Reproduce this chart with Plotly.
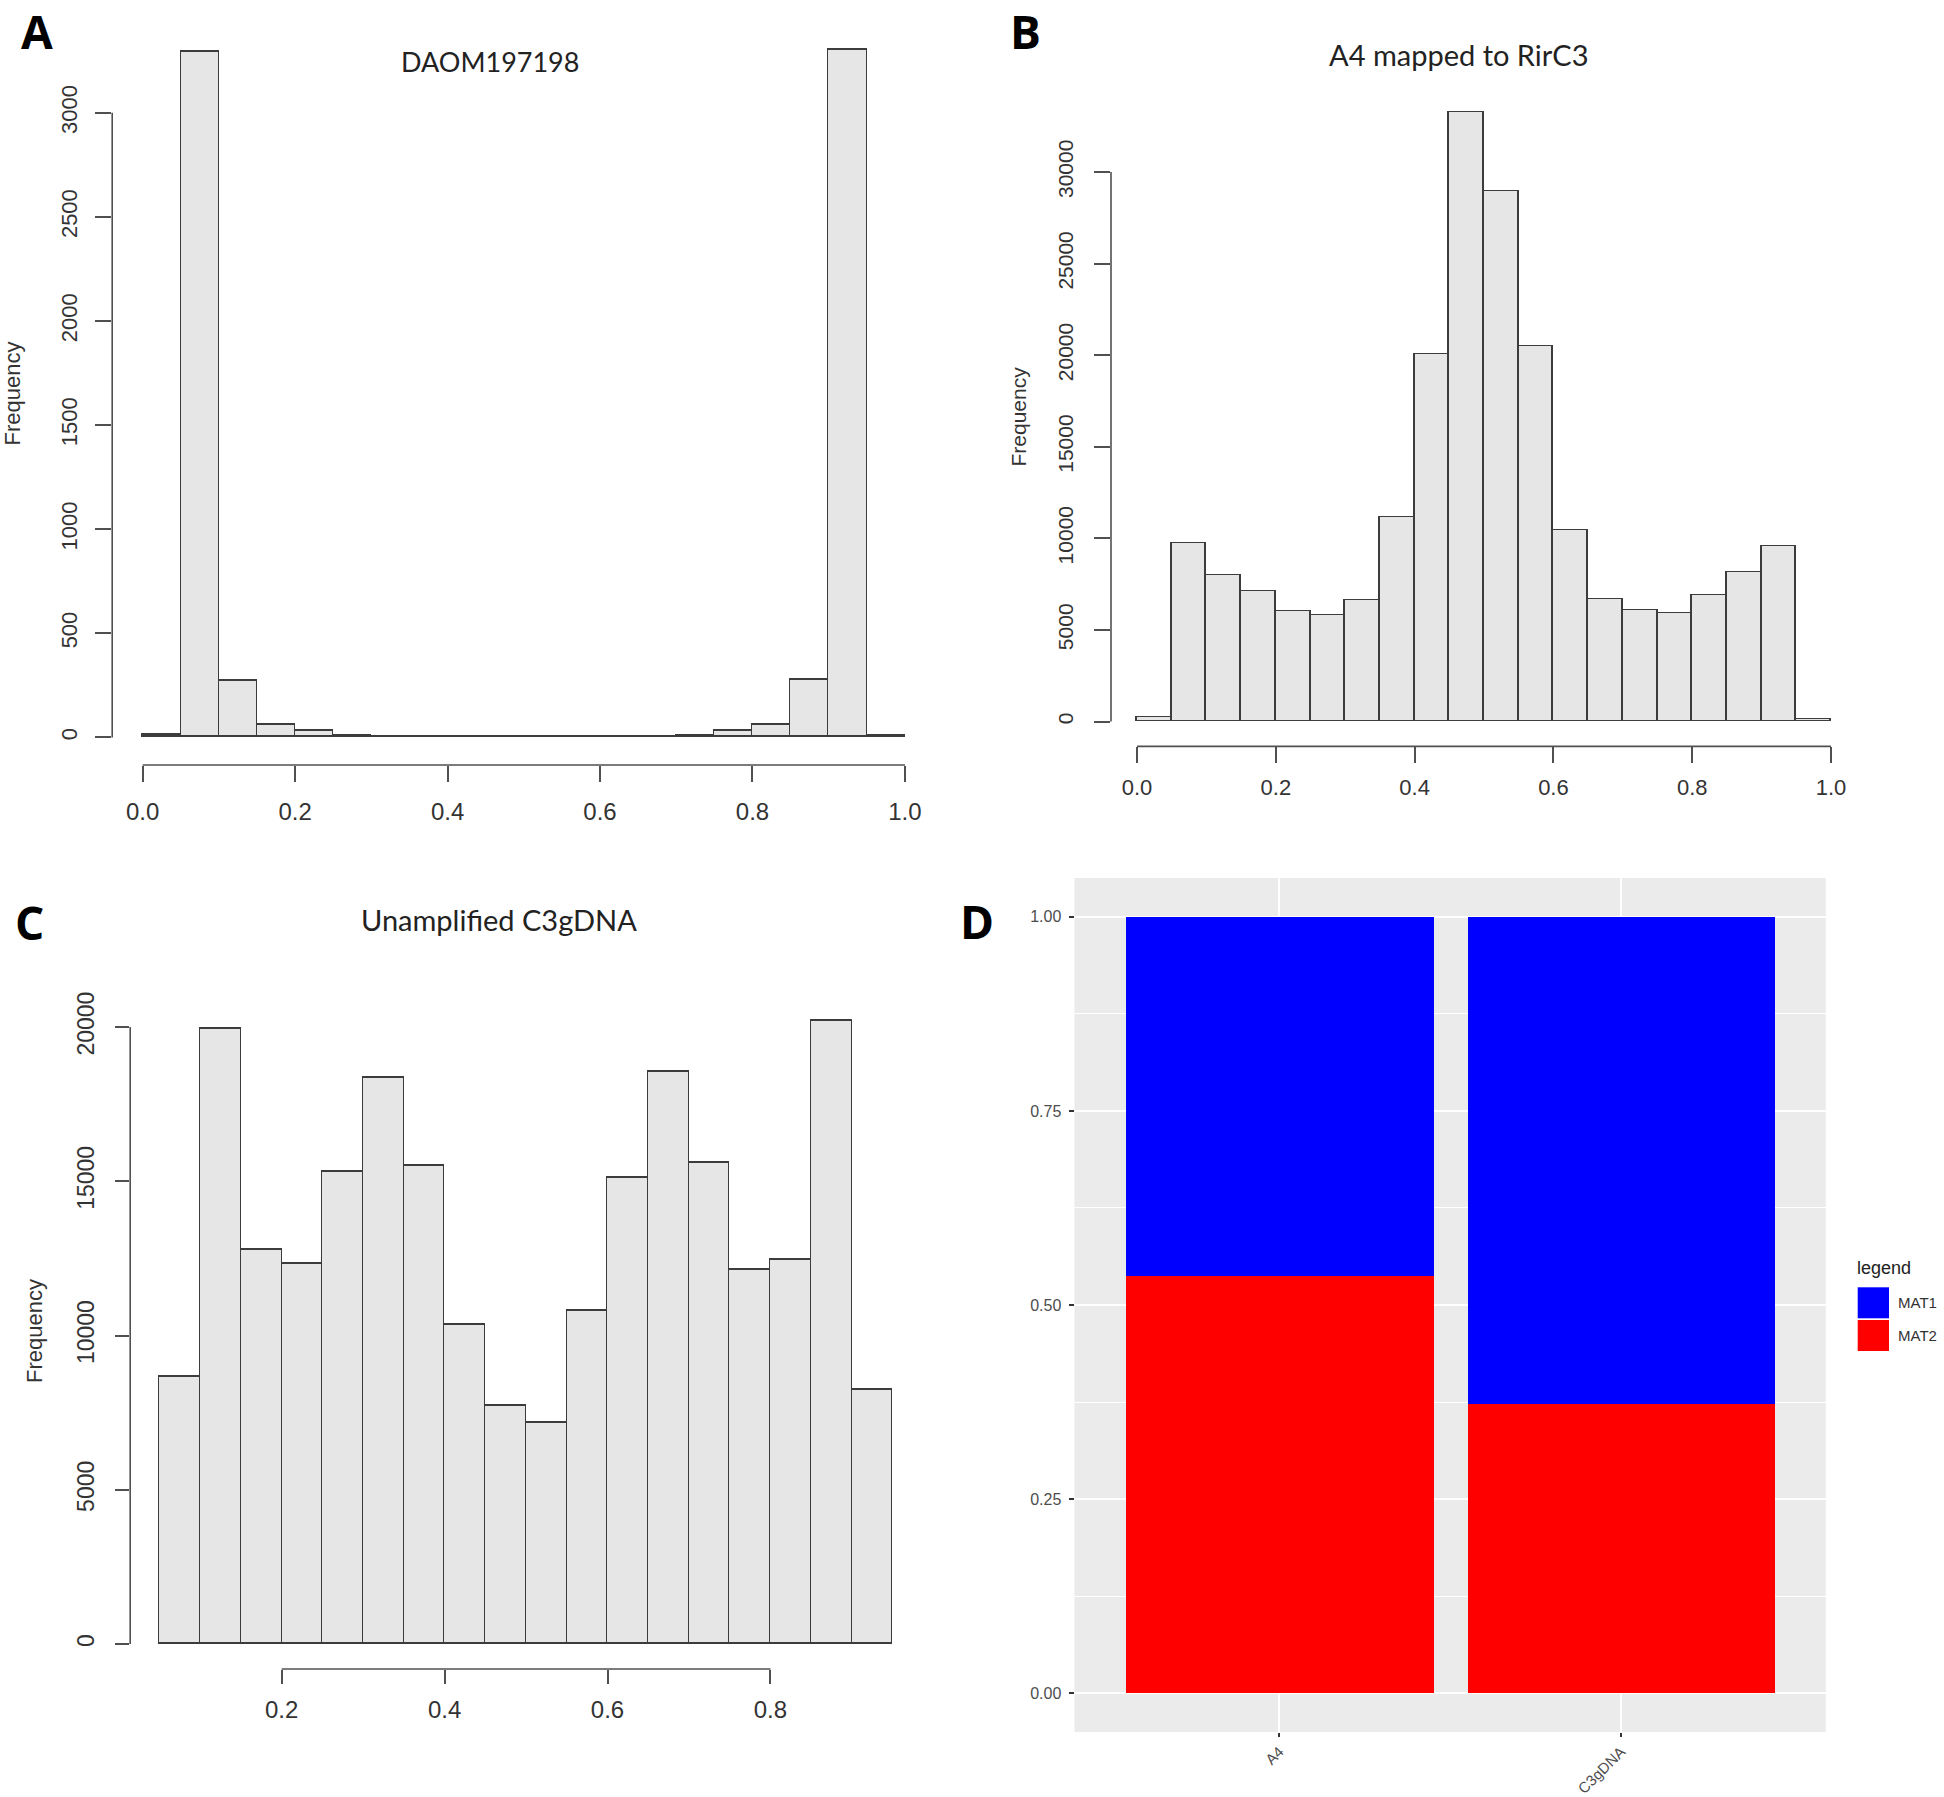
import plotly.graph_objects as go

W, H = 1944, 1797

# ---------------- data ----------------
# Panel A: DAOM197198 (bin midpoints, width 0.05)
a_bin_mid = [0.025, 0.075, 0.125, 0.175, 0.225, 0.275, 0.325, 0.375, 0.425, 0.475,
             0.525, 0.575, 0.625, 0.675, 0.725, 0.775, 0.825, 0.875, 0.925, 0.975]
a_counts = [10, 3295, 270, 58, 31, 8, 3, 2, 2, 3,
            3, 2, 2, 3, 6, 31, 61, 275, 3300, 5]

# Panel B: A4 mapped to RirC3
b_bin_mid = [0.025, 0.075, 0.125, 0.175, 0.225, 0.275, 0.325, 0.375, 0.425, 0.475,
             0.525, 0.575, 0.625, 0.675, 0.725, 0.775, 0.825, 0.875, 0.925, 0.975]
b_counts = [230, 9710, 7980, 7110, 6010, 5780, 6620, 11160, 20030, 33240,
            28960, 20460, 10430, 6680, 6070, 5900, 6880, 8150, 9570, 100]

# Panel C: Unamplified C3gDNA
c_bin_mid = [0.075, 0.125, 0.175, 0.225, 0.275, 0.325, 0.375, 0.425, 0.475,
             0.525, 0.575, 0.625, 0.675, 0.725, 0.775, 0.825, 0.875, 0.925]
c_counts = [8640, 19940, 12760, 12320, 15300, 18360, 15500, 10340, 7700,
            7180, 10800, 15100, 18540, 15600, 12140, 12440, 20200, 8240]

# Panel D: MAT proportions
d_samples = ["A4", "C3gDNA"]
d_mat1 = [0.462, 0.627]
d_mat2 = [0.538, 0.373]

# tick values / labels
ab_xticks = [0.0, 0.2, 0.4, 0.6, 0.8, 1.0]
ab_xlabels = ["0.0", "0.2", "0.4", "0.6", "0.8", "1.0"]
c_xticks = [0.2, 0.4, 0.6, 0.8]
c_xlabels = ["0.2", "0.4", "0.6", "0.8"]
a_yticks = [0, 500, 1000, 1500, 2000, 2500, 3000]
b_yticks = [0, 5000, 10000, 15000, 20000, 25000, 30000]
c_yticks = [0, 5000, 10000, 15000, 20000]
d_yticks = [0, 0.25, 0.5, 0.75, 1.0]
d_ylabels = ["0.00", "0.25", "0.50", "0.75", "1.00"]

# ---------------- styles ----------------
HIST_FILL = "#E6E6E6"
HIST_EDGE = "#3C3C3C"
AXIS_COL = "#505050"
TXT = "#333333"
RFONT = "Liberation Sans, Arial, sans-serif"
TFONT = "Lato, Open Sans, sans-serif"


def px(p):
    return p / W


def py(p):
    return 1 - p / H


fig = go.Figure()


def hist(xs, ys, xa, ya):
    fig.add_trace(go.Bar(
        x=xs, y=ys, width=0.05, xaxis=xa, yaxis=ya, showlegend=False,
        marker=dict(color=HIST_FILL, line=dict(color=HIST_EDGE, width=1.6)),
        hoverinfo="x+y"))


hist(a_bin_mid, a_counts, "x", "y")
hist(b_bin_mid, b_counts, "x2", "y2")
hist(c_bin_mid, c_counts, "x3", "y3")

fig.add_trace(go.Bar(x=d_samples, y=d_mat2, name="MAT2", width=0.9,
                     marker=dict(color="#FF0000", line=dict(width=0)),
                     xaxis="x4", yaxis="y4", showlegend=False))
fig.add_trace(go.Bar(x=d_samples, y=d_mat1, name="MAT1", width=0.9,
                     marker=dict(color="#0000FF", line=dict(width=0)),
                     xaxis="x4", yaxis="y4", showlegend=False))


def r_xaxis(domain, rng, tickvals, ticktext, anchor, fsize, ticklen, standoff):
    return dict(domain=domain, range=rng, anchor=anchor, tickmode="array",
                tickvals=tickvals, ticktext=ticktext, ticks="outside",
                ticklen=ticklen, tickwidth=1.6, tickcolor=AXIS_COL,
                showline=False, showgrid=False, zeroline=False,
                tickfont=dict(family=RFONT, size=fsize, color=TXT),
                ticklabelstandoff=standoff, automargin=False, fixedrange=True)


def r_yaxis(domain, rng, tickvals, anchor, fsize, ticklen, standoff):
    return dict(domain=domain, range=rng, anchor=anchor, tickmode="array",
                tickvals=tickvals, ticktext=[str(v) for v in tickvals],
                ticks="outside", ticklen=ticklen, tickwidth=1.6,
                tickcolor=AXIS_COL, tickangle=-90,
                showline=False, showgrid=False, zeroline=False,
                tickfont=dict(family=RFONT, size=fsize, color=TXT),
                ticklabelstandoff=standoff, automargin=False, fixedrange=True)


layout = dict(
    width=W, height=H, autosize=False,
    margin=dict(l=0, r=0, t=0, b=0),
    paper_bgcolor="white", plot_bgcolor="white",
    barmode="stack", bargap=0,
    font=dict(family=RFONT, color=TXT),
    # Panel A
    xaxis=r_xaxis([px(112.2), px(935.4)], [-0.04, 1.04], ab_xticks, ab_xlabels, "y", 24, 16, 9),
    yaxis=r_yaxis([py(765), py(22.9)], [-132.6, 3432], a_yticks, "x", 22, 16, 9),
    # Panel B
    xaxis2=r_xaxis([px(1111), px(1858.8)], [-0.0375, 1.04], ab_xticks, ab_xlabels, "y2", 22, 16, 5),
    yaxis2=r_yaxis([py(746.4), py(88.3)], [-1359, 34566], b_yticks, "x2", 21, 16, 13),
    # Panel C
    xaxis3=r_xaxis([px(130.2), px(921.9)], [0.014, 0.986], c_xticks, c_xlabels, "y3", 24, 14, 5),
    yaxis3=r_yaxis([py(1669), py(996)], [-811, 21008], c_yticks, "x3", 23, 14, 12),
    # Panel D (ggplot style)
    xaxis4=dict(domain=[px(1074.5), px(1825.8)], range=[-0.6, 1.6], anchor="y4",
                type="category", ticks="outside", ticklen=4, tickwidth=1.5,
                tickcolor="#333333", showgrid=True, gridcolor="white", gridwidth=2,
                zeroline=False, showline=False, tickangle=-45,
                tickfont=dict(family=RFONT, size=15, color="#4D4D4D"),
                ticklabelstandoff=0, automargin=False, fixedrange=True),
    yaxis4=dict(domain=[py(1732), py(878)], range=[-0.05, 1.05], anchor="x4",
                tickmode="array", tickvals=d_yticks, ticktext=d_ylabels,
                ticks="outside", ticklen=5, tickwidth=1.5, tickcolor="#333333",
                showgrid=True, gridcolor="white", gridwidth=2,
                minor=dict(tickvals=[0.125, 0.375, 0.625, 0.875], showgrid=True,
                           gridcolor="white", gridwidth=1, ticks=""),
                zeroline=False, showline=False,
                tickfont=dict(family=RFONT, size=16, color="#4D4D4D"),
                ticklabelstandoff=4, automargin=False, fixedrange=True),
)
fig.update_layout(**layout)

shapes = []
# R-style axis lines (span first to last tick)
line_style = dict(color=AXIS_COL, width=1.6)
shapes.append(dict(type="line", xref="x", yref="y domain", x0=0, x1=1, y0=0, y1=0, line=line_style))
shapes.append(dict(type="line", xref="x domain", yref="y", x0=0, x1=0, y0=0, y1=3000, line=line_style))
shapes.append(dict(type="line", xref="x2", yref="y2 domain", x0=0, x1=1, y0=0, y1=0, line=line_style))
shapes.append(dict(type="line", xref="x2 domain", yref="y2", x0=0, x1=0, y0=0, y1=30000, line=line_style))
shapes.append(dict(type="line", xref="x3", yref="y3 domain", x0=0.2, x1=0.8, y0=0, y1=0, line=line_style))
shapes.append(dict(type="line", xref="x3 domain", yref="y3", x0=0, x1=0, y0=0, y1=20000, line=line_style))
# ggplot panel background
shapes.append(dict(type="rect", xref="x4 domain", yref="y4 domain", x0=0, x1=1, y0=0, y1=1,
                   fillcolor="#EBEBEB", line=dict(width=0), layer="below"))
# Custom legend keys for panel D
shapes.append(dict(type="rect", xref="paper", yref="paper", x0=px(1857.7), x1=px(1889),
                   y0=py(1318.3), y1=py(1287.3), fillcolor="#0000FF", line=dict(width=0)))
shapes.append(dict(type="rect", xref="paper", yref="paper", x0=px(1857.7), x1=px(1889),
                   y0=py(1351), y1=py(1320), fillcolor="#FF0000", line=dict(width=0)))
fig.update_layout(shapes=shapes)

ann = []


def text(x, y, s, size, family=RFONT, color=TXT, angle=0, xanchor="center"):
    ann.append(dict(x=px(x), y=py(y), xref="paper", yref="paper", text=s,
                    showarrow=False, textangle=angle, xanchor=xanchor, yanchor="middle",
                    borderpad=0, font=dict(family=family, size=size, color=color)))


# panel letters
LFONT = "Open Sans, sans-serif"
text(37, 31, "<b>A</b>", 46, LFONT, "black")
text(1025, 31, "<b>B</b>", 46, LFONT, "black")
text(29, 922, "<b>C</b>", 46, LFONT, "black")
text(977, 921, "<b>D</b>", 46, LFONT, "black")
# titles
text(490, 61, "DAOM197198", 27, TFONT, "#222222")
text(1459, 55, "A4 mapped to RirC3", 29, TFONT, "#222222")
text(499, 919, "Unamplified C3gDNA", 29, TFONT, "#222222")
# y axis titles
text(12.5, 394, "Frequency", 22, angle=-90)
text(1018.5, 417, "Frequency", 21, angle=-90)
text(34, 1331, "Frequency", 22, angle=-90)
# legend text
text(1856, 1267.5, "legend", 18, color="#222222", xanchor="left")
text(1897, 1302.7, "MAT1", 15, xanchor="left")
text(1897, 1335.5, "MAT2", 15, xanchor="left")
fig.update_layout(annotations=ann)

fig.write_html("out.html", config={"displayModeBar": False},
               post_script="document.body.style.margin='0px';")
